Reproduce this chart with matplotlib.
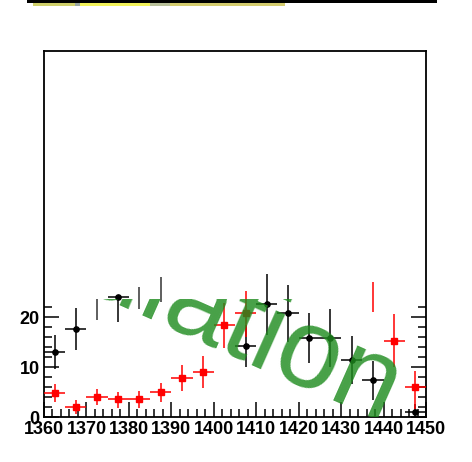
import numpy as np
import matplotlib
matplotlib.use("Agg")
import matplotlib.pyplot as plt
from matplotlib.patches import Rectangle
from matplotlib.transforms import Bbox, TransformedBbox

# === data ===
bin_centers = [1362.5, 1367.5, 1372.5, 1377.5, 1382.5, 1387.5, 1392.5, 1397.5, 1402.5,
               1407.5, 1412.5, 1417.5, 1422.5, 1427.5, 1432.5, 1437.5, 1442.5, 1447.5]

black_y  = [13.1, 17.7, np.nan, 24.0, np.nan, np.nan, np.nan, np.nan, np.nan,
            14.3, 22.6, 20.9, 15.9, 15.9, 11.4, 7.4, np.nan, 1.1]
black_up = [3.3, 4.2, 0, 0.0, 0, 0, 0, 0, 0, 4.1, 6.0, 5.5, 5.0, 5.7, 4.8, 3.9, 0, 1.6]
black_dn = [3.4, 4.2, 0, 5.0, 0, 0, 0, 0, 0, 4.2, 6.2, 5.8, 5.0, 5.8, 4.7, 4.0, 0, 1.1]

red_y  = [4.9, 2.1, 4.1, 3.6, 3.7, 5.0, 7.8, 9.1, 18.4,
          20.8, np.nan, np.nan, np.nan, np.nan, np.nan, np.nan, 15.3, 6.0]
red_up = [1.8, 1.3, 1.6, 1.5, 1.6, 1.9, 2.6, 3.1, 4.5, 4.5, 0, 0, 0, 0, 0, 0, 5.3, 3.2]
red_dn = [1.8, 1.4, 1.7, 1.7, 1.8, 1.9, 2.5, 3.2, 4.5, 4.7, 0, 0, 0, 0, 0, 0, 5.2, 4.4]

# bars whose marker sits off the visible region
black_stub_x  = [1372.5, 1382.5, 1387.5]
black_stub_lo = [19.5, 21.6, 23.0]
black_stub_hi = [23.7, 26.1, 28.0]
red_stub_x  = [1437.5]
red_stub_lo = [21.1]
red_stub_hi = [27.1]

half_bin = 2.5
W, H = 472, 462


def px(x0, y0, w, h):
    # pixel box (top-left origin) -> figure fraction box
    return (x0 / W, 1 - (y0 + h) / H, w / W, h / H)


def add_box(x0, y0, w, h, c):
    b = px(x0, y0, w, h)
    fig.add_artist(Rectangle(b[:2], b[2], b[3], transform=fig.transFigure, color=c, lw=0))


fig = plt.figure(figsize=(W / 100, H / 100), dpi=100)
plt.rcParams['font.family'] = ['Liberation Sans', 'DejaVu Sans']

ax = fig.add_axes(px(44, 51, 382, 366))
ax.set_xlim(1360, 1450)
ax.set_ylim(0, 73.2)

for s in ax.spines.values():
    s.set_linewidth(1.3)
    s.set_color('black')

ax.set_xticks(np.arange(1360, 1451, 10))
ax.set_xticks([v for v in range(1360, 1451, 2) if v % 10], minor=True)
ax.set_yticks([0, 10, 20])
ax.set_yticks([v for v in range(2, 23, 2) if v % 10], minor=True)
ax.tick_params(which='both', direction='in', top=False, right=True, width=1.1,
               labelsize=13)
ax.tick_params(which='major', length=11, pad=3)
ax.tick_params(which='minor', length=5.5)
for lab in ax.get_xticklabels() + ax.get_yticklabels():
    lab.set_fontweight('bold')

# black series
ax.errorbar(bin_centers, black_y, yerr=[black_dn, black_up], xerr=half_bin,
            fmt='o', color='black', ms=3.8, elinewidth=1.1, capsize=0, zorder=3)
ax.vlines(black_stub_x, black_stub_lo, black_stub_hi, color='#333333', lw=1.1, zorder=3)

# red series
ax.errorbar(bin_centers, red_y, yerr=[red_dn, red_up], xerr=half_bin,
            fmt='s', color='red', ms=4, elinewidth=1.1, capsize=0, zorder=3)
ax.vlines(red_stub_x, red_stub_lo, red_stub_hi, color='red', lw=1.1, zorder=3)

# watermark, clipped like in the original
wm = ax.text(1440.0, -1.6, 'Simulation', fontsize=82, color=(0.12, 0.55, 0.12),
             alpha=0.82, rotation=-24, rotation_mode='anchor', ha='right',
             va='baseline', family=['Liberation Sans Narrow', 'Liberation Sans'],
             zorder=4)
wm.set_clip_box(TransformedBbox(Bbox([[1360, 0], [1450, 23.7]]), ax.transData))
wm.set_clip_on(True)

# remnants of a header strip at the very top
add_box(27, 0, 410, 3, 'black')
strip = [(33, 75, '#cfcf6a'), (75, 80, '#9aa7a0'), (80, 150, '#f2f25a'),
         (150, 170, '#b8c09a'), (170, 285, '#d4cc6e')]
for x0, x1, c in strip:
    add_box(x0, 3, x1 - x0, 3, c)

fig.savefig('out.png', dpi=100)
